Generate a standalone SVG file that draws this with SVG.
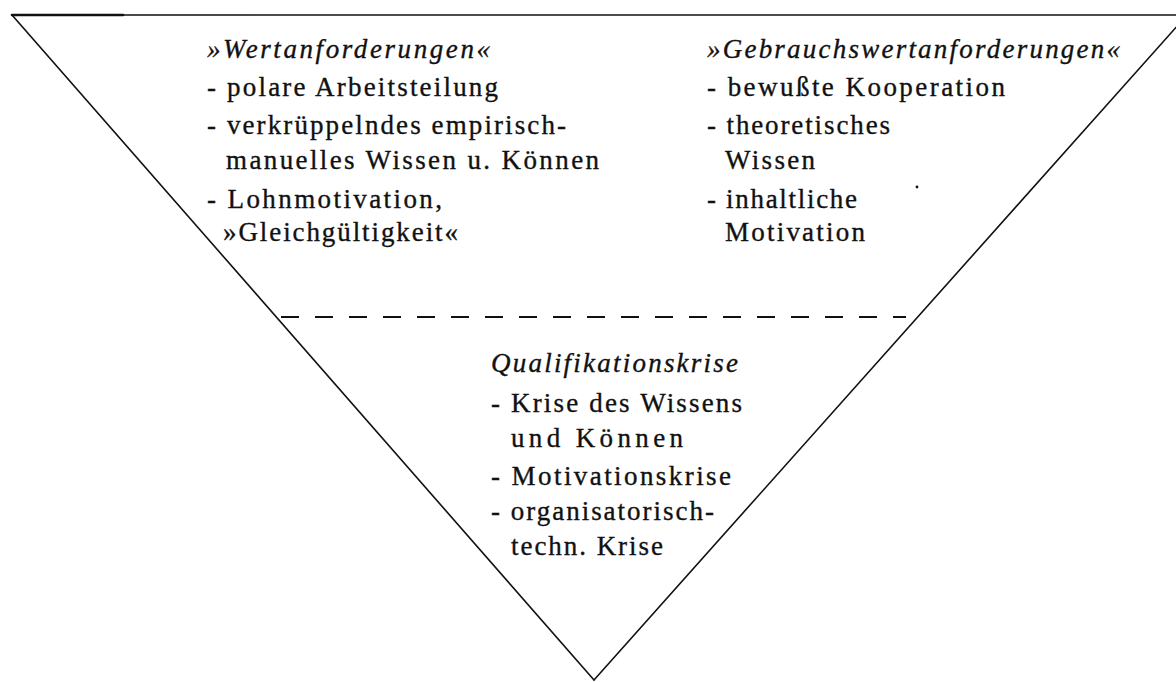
<svg xmlns="http://www.w3.org/2000/svg" width="1176" height="682" viewBox="0 0 1176 682">
<style>
  .ln { stroke: #111; stroke-width: 1.6; fill: none; stroke-linecap: round; }
  .dash { stroke: #111; stroke-width: 2.2; fill: none; stroke-dasharray: 18 16; }
  text { font-family: "Liberation Serif", "Times New Roman", serif; font-size: 27px; fill: #111; stroke: #111; stroke-width: 0.35; }
  .ti { font-style: italic; }
</style>
<rect width="1176" height="682" fill="#fff"/>
<g id="frame">
  <line class="ln" x1="12" y1="15" x2="1176" y2="15"/>
  <line class="ln" x1="12" y1="15" x2="123" y2="15" style="stroke-width:2.6"/>
  <line class="ln" x1="12" y1="15" x2="594" y2="680"/>
  <line class="ln" x1="594" y1="680" x2="1187" y2="15"/>
  <line class="dash" x1="281" y1="317" x2="906" y2="317"/>
  <circle cx="917" cy="187" r="1.4" fill="#111"/>
</g>
<g id="wertanforderungen">
  <text class="ti" x="207" y="58" textLength="283" lengthAdjust="spacing">»Wertanforderungen«</text>
  <text x="207" y="96" textLength="291" lengthAdjust="spacing">- polare Arbeitsteilung</text>
  <text x="207" y="134" textLength="359" lengthAdjust="spacing">- verkrüppelndes empirisch-</text>
  <text x="226" y="169" textLength="373" lengthAdjust="spacing">manuelles Wissen u. Können</text>
  <text x="207" y="208" textLength="235" lengthAdjust="spacing">- Lohnmotivation,</text>
  <text x="223" y="241" textLength="235" lengthAdjust="spacing">»Gleichgültigkeit«</text>
</g>
<g id="gebrauchswertanforderungen">
  <text class="ti" x="707" y="58" textLength="413" lengthAdjust="spacing">»Gebrauchswertanforderungen«</text>
  <text x="707" y="96" textLength="298" lengthAdjust="spacing">- bewußte Kooperation</text>
  <text x="707" y="134" textLength="183" lengthAdjust="spacing">- theoretisches</text>
  <text x="725" y="169" textLength="90" lengthAdjust="spacing">Wissen</text>
  <text x="707" y="208" textLength="150" lengthAdjust="spacing">- inhaltliche</text>
  <text x="725" y="241" textLength="140" lengthAdjust="spacing">Motivation</text>
</g>
<g id="qualifikationskrise">
  <text class="ti" x="491" y="372" textLength="247" lengthAdjust="spacing">Qualifikationskrise</text>
  <text x="491" y="412" textLength="251" lengthAdjust="spacing">- Krise des Wissens</text>
  <text x="511" y="447" textLength="172" lengthAdjust="spacing">und Können</text>
  <text x="491" y="485" textLength="240" lengthAdjust="spacing">- Motivationskrise</text>
  <text x="491" y="520" textLength="223" lengthAdjust="spacing">- organisatorisch-</text>
  <text x="511" y="555" textLength="152" lengthAdjust="spacing">techn. Krise</text>
</g>
<g id="connectors"></g>
</svg>
